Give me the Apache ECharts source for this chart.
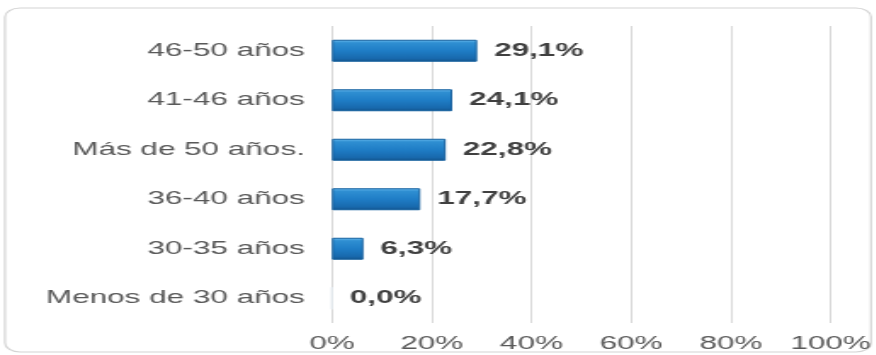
<!DOCTYPE html>
<html>
<head>
<meta charset="utf-8">
<script src="https://cdn.jsdelivr.net/npm/echarts@6/dist/echarts.min.js"></script>
<style>
  html, body { margin: 0; padding: 0; background: #ffffff; overflow: hidden; }
  #wrap { width: 876px; height: 355px; overflow: hidden; }
  /* the chart is laid out narrow and widened horizontally for its broad lettering */
  #chart { height: 355px; transform-origin: 0 0; }
</style>
</head>
<body>
<div id="wrap"><div id="chart"></div></div>
<script>
// Age groups, listed bottom to top as the category axis draws them
const categories = ['Menos de 30 años', '30-35 años', '36-40 años', 'Más de 50 años.', '41-46 años', '46-50 años'];
// Share of respondents in each group (%)
const shares = [0.0, 6.3, 17.7, 22.8, 24.1, 29.1];
// Value axis ticks (%)
const tickValues = [0, 20, 40, 60, 80, 100];

const STRETCH = 1.7;
const FULL_W = 876;
const W = FULL_W / STRETCH;

const el = document.getElementById('chart');
el.style.width = W + 'px';
el.style.transform = 'scaleX(' + STRETCH + ')';

const chart = echarts.init(el, null, { renderer: 'canvas', width: W, height: 355 });
const font = '"Liberation Sans", Arial, sans-serif';

const barGradient = new echarts.graphic.LinearGradient(0, 0, 0, 1, [
  { offset: 0, color: '#6dbdf0' },
  { offset: 0.14, color: '#2f8fd2' },
  { offset: 0.5, color: '#1f7dc6' },
  { offset: 0.85, color: '#1869ad' },
  { offset: 1, color: '#12538c' }
]);

// empty groups get only a faint hairline at the axis
const barData = shares.map(v => v > 0
  ? { value: v }
  : { value: v, itemStyle: { borderColor: '#e3e8ee', borderWidth: 1 } });

chart.setOption({
  animation: false,
  backgroundColor: '#ffffff',
  graphic: [{
    type: 'rect',
    shape: { x: 5 / STRETCH, y: 8, width: (871 - 5) / STRETCH, height: 344, r: 9 },
    style: { fill: 'none', stroke: '#d4d4d4', lineWidth: 1.2 },
    z: -1
  }],
  grid: { left: 332 / STRETCH, right: (FULL_W - 832) / STRETCH, top: 26, bottom: 32, containLabel: false },
  xAxis: {
    type: 'value',
    min: tickValues[0],
    max: tickValues[tickValues.length - 1],
    interval: tickValues[1] - tickValues[0],
    axisLine: { show: false },
    axisTick: { show: false },
    splitLine: { show: true, lineStyle: { color: '#d9d9d9', width: 1 } },
    axisLabel: {
      formatter: v => v + '%',
      color: '#595959',
      fontFamily: font,
      fontSize: 18.5,
      margin: 11
    }
  },
  yAxis: {
    type: 'category',
    data: categories,
    axisLine: { show: false },
    axisTick: { show: false },
    axisLabel: {
      color: '#595959',
      fontFamily: font,
      fontSize: 18.5,
      margin: 16
    }
  },
  series: [{
    type: 'bar',
    data: barData,
    barWidth: 22,
    itemStyle: {
      color: barGradient,
      borderColor: '#15609f',
      borderWidth: 1
    },
    label: {
      show: true,
      position: 'right',
      distance: 10,
      formatter: p => p.value.toFixed(1).replace('.', ',') + '%',
      color: '#404040',
      fontFamily: font,
      fontSize: 18.5,
      fontWeight: 'bold'
    }
  }]
});
</script>
</body>
</html>
